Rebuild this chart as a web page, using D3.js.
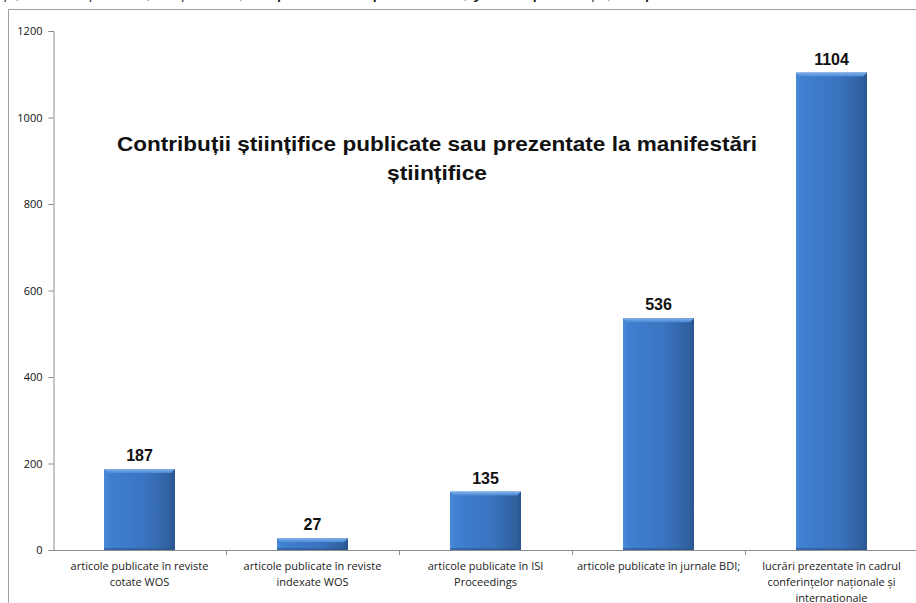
<html>
    <head>
        <meta charset="utf-8">
        <title>Contributii stiintifice</title>
        <style>
            body { margin: 0; background: #fff; }
        </style>
    </head>
    <body>
        <div id="graph"></div>
        <script src="https://cdnjs.cloudflare.com/ajax/libs/d3/7.8.5/d3.min.js"></script>
        <script>
            // data
            var categories = [
                ["articole publicate în reviste", "cotate WOS"],
                ["articole publicate în reviste", "indexate WOS"],
                ["articole publicate în ISI", "Proceedings"],
                ["articole publicate în jurnale BDI;"],
                ["lucrări prezentate în cadrul", "conferințelor naționale și", "internaționale"]
            ];
            var values = [187, 27, 135, 536, 1104];
            var yTicks = [0, 200, 400, 600, 800, 1000, 1200];
            var titleLines = ["Contribuții științifice publicate sau prezentate la manifestări", "științifice"];

            var W = 916, H = 603;
            var sans = "'Liberation Sans', Arial, sans-serif";
            var narrow = "'Liberation Sans Narrow', 'Liberation Sans', sans-serif";
            var svg = d3.select("#graph").append("svg")
                .attr("width", W).attr("height", H);

            // cut-off line of text from the page above
            svg.append("text")
                .attr("x", 0).attr("y", -2)
                .attr("font-size", 20)
                .attr("font-family", sans)
                .attr("fill", "#111")
                .text("și, internaționale, naționale, respectiv de specialitate, y în importanța, respectiv de ce ale");

            // frame
            svg.append("path")
                .attr("d", "M8.5," + H + "V9.5H" + W)
                .attr("fill", "none").attr("stroke", "#a0a0a0");

            var x = d3.scaleBand()
                .domain(d3.range(categories.length))
                .range([53, 918])
                .paddingInner(0).paddingOuter(0);
            var y = d3.scaleLinear().domain([0, 1200]).range([550, 31]);

            // gradient for the bars
            var defs = svg.append("defs");
            var g = defs.append("linearGradient").attr("id", "barGrad")
                .attr("x1", "0").attr("x2", "1").attr("y1", "0").attr("y2", "0");
            g.append("stop").attr("offset", "0%").attr("stop-color", "#4a8ad8");
            g.append("stop").attr("offset", "8%").attr("stop-color", "#3f80d0");
            g.append("stop").attr("offset", "60%").attr("stop-color", "#3a73c0");
            g.append("stop").attr("offset", "92%").attr("stop-color", "#30619f");
            g.append("stop").attr("offset", "100%").attr("stop-color", "#2a5590");
            var gt = defs.append("linearGradient").attr("id", "topGrad")
                .attr("x1", "0").attr("x2", "0").attr("y1", "0").attr("y2", "1");
            gt.append("stop").attr("offset", "0%").attr("stop-color", "#7fb0ea");
            gt.append("stop").attr("offset", "100%").attr("stop-color", "#4a88d6");

            // y axis
            var yAxis = d3.axisLeft(y).tickValues(yTicks).tickFormat(d3.format("d"))
                .tickSize(5).tickPadding(6);
            var ya = svg.append("g").attr("transform", "translate(53.5,0)").call(yAxis);
            ya.select(".domain").attr("stroke", "#8c8c8c");
            ya.selectAll(".tick line").attr("stroke", "#8c8c8c");
            ya.selectAll(".tick text").attr("font-size", 11).attr("fill", "#111")
                .attr("font-family", "'Open Sans', 'DejaVu Sans', sans-serif");

            // x axis line and separators
            svg.append("line").attr("x1", 53).attr("x2", W).attr("y1", 550.5).attr("y2", 550.5)
                .attr("stroke", "#8c8c8c");
            svg.selectAll(".sep").data(d3.range(1, categories.length))
                .enter().append("line")
                .attr("x1", function(i) { return Math.round(x(i)) + 0.5; })
                .attr("x2", function(i) { return Math.round(x(i)) + 0.5; })
                .attr("y1", 550).attr("y2", 555)
                .attr("stroke", "#8c8c8c");

            var bw = 71;
            var bars = svg.selectAll(".bar").data(values).enter().append("g");
            bars.append("rect")
                .attr("x", function(d, i) { return x(i) + x.bandwidth() / 2 - bw / 2; })
                .attr("y", function(d) { return y(d); })
                .attr("width", bw)
                .attr("height", function(d) { return y(0) - y(d); })
                .attr("fill", "url(#barGrad)");
            // top bevel
            bars.append("path")
                .attr("d", function(d, i) {
                    var x0 = x(i) + x.bandwidth() / 2 - bw / 2, y0 = y(d);
                    return "M" + x0 + "," + y0 + "h" + bw + "l-4,4h" + (-(bw - 8)) + "z";
                })
                .attr("fill", "url(#topGrad)");
            // bottom shadow
            bars.append("rect")
                .attr("x", function(d, i) { return x(i) + x.bandwidth() / 2 - bw / 2; })
                .attr("y", y(0) - 2)
                .attr("width", bw).attr("height", 2)
                .attr("fill", "#2a568f").attr("opacity", 0.6);

            // value labels
            bars.append("text")
                .attr("x", function(d, i) { return x(i) + x.bandwidth() / 2; })
                .attr("y", function(d) { return y(d) - 8; })
                .attr("text-anchor", "middle")
                .attr("font-size", 16).attr("font-weight", "bold")
                .attr("font-family", narrow)
                .attr("fill", "#111")
                .text(function(d) { return d; });

            // category labels
            var cl = svg.selectAll(".cat").data(categories).enter().append("text")
                .attr("text-anchor", "middle")
                .attr("font-size", 11).attr("fill", "#222")
                .attr("font-family", "'Open Sans', 'DejaVu Sans', sans-serif");
            cl.each(function(lines, i) {
                var t = d3.select(this);
                lines.forEach(function(s, k) {
                    t.append("tspan")
                        .attr("x", x(i) + x.bandwidth() / 2)
                        .attr("y", 570 + k * 16)
                        .text(s);
                });
            });

            // title
            svg.selectAll(".title").data(titleLines).enter().append("text")
                .attr("x", 437)
                .attr("y", function(d, i) { return 151 + i * 29; })
                .attr("text-anchor", "middle")
                .attr("font-size", 21).attr("font-weight", "bold")
                .attr("font-family", sans)
                .attr("fill", "#111")
                .attr("textLength", function(d, i) { return i === 0 ? 640 : 100; })
                .attr("lengthAdjust", "spacingAndGlyphs")
                .text(function(d) { return d; });
        </script>
    </body>
</html>
